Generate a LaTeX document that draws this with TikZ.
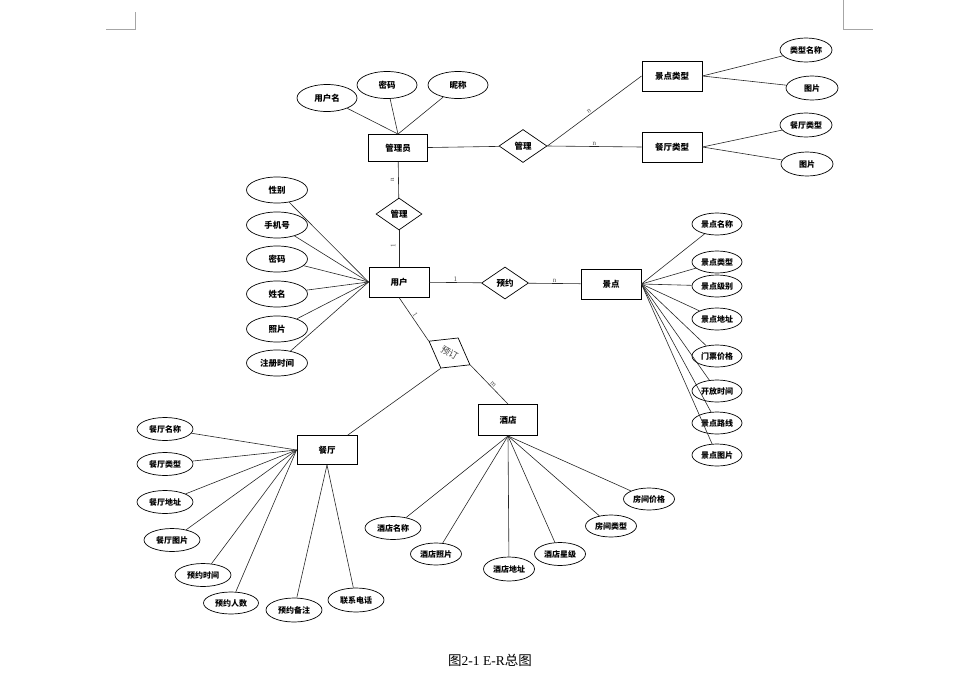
\documentclass[tikz,border=0pt]{standalone}
\usepackage{fontspec}
\setmainfont{Noto Sans CJK SC}
\newfontfamily\lat{Liberation Serif}
\usetikzlibrary{shapes.geometric}
\begin{document}
\begin{tikzpicture}[x=1pt,y=-1pt,
  ent/.style={draw,line width=0.9pt,minimum width=60pt,minimum height=30pt,inner sep=0pt,font=\fontsize{8.5}{8.5}\selectfont\bfseries},
  attr/.style={draw,ellipse,line width=0.7pt,inner sep=0pt,minimum width=60pt,minimum height=27pt,font=\fontsize{8.5}{8.5}\selectfont\bfseries},
  sattr/.style={attr,minimum width=52pt,minimum height=24pt,font=\fontsize{8}{8}\selectfont\bfseries},
  rel/.style={draw,diamond,inner sep=0pt,line width=0.7pt,minimum width=48pt,minimum height=33pt,font=\fontsize{8.5}{8.5}\selectfont\bfseries},
  ln/.style={line width=0.6pt,draw=black!85},
  card/.style={font=\lat\fontsize{7}{7}\selectfont,text=black!70,inner sep=1pt},
  cornermark/.style={draw=black!35,line width=0.8pt}
]
\path[use as bounding box] (0,0) rectangle (959,691);

% corner marks
\draw[cornermark] (106,29) -- (135,29) -- (135,12);
\draw[cornermark] (843,0) -- (843,29) -- (873,29);

% entities
\node[ent,minimum width=59pt,minimum height=27pt] (admin) at (398,148) {管理员};
\node[ent] (stype) at (672,76) {景点类型};
\node[ent] (rtype) at (672,147) {餐厅类型};
\node[ent] (user) at (399,282) {用户};
\node[ent] (spot) at (611,284) {景点};
\node[ent,minimum height=29pt] (cant) at (327,450) {餐厅};
\node[ent,minimum width=59pt,minimum height=31pt] (hotel) at (508,420) {酒店};

% relations
\node[rel] (m1) at (523,146) {管理};
\node[rel,minimum width=46pt,minimum height=32pt] (m2) at (399,214) {管理};
\node[rel,minimum width=47pt,minimum height=32pt] (yy) at (505,283) {预约};
\node[draw,diamond,inner sep=0pt,line width=0.7pt,minimum width=47.5pt,minimum height=35pt,rotate=-30,font=\fontsize{9}{9}\selectfont,text=black!75] (ding) at (449.5,353) {预订};

% admin attributes
\node[attr] (un) at (327,98) {用户名};
\node[attr] (pw1) at (387,85) {密码};
\node[attr] (nick) at (458,85) {昵称};

% type attributes
\node[sattr] (tn) at (806,50) {类型名称};
\node[sattr] (tp1) at (812,88) {图片};
\node[sattr] (rt) at (806,125) {餐厅类型};
\node[sattr] (tp2) at (807,164) {图片};

% user attributes
\node[attr,minimum width=61pt,minimum height=26pt] (sex) at (277,190) {性别};
\node[attr,minimum width=61pt,minimum height=26pt] (phone) at (277,225) {手机号};
\node[attr,minimum width=61pt,minimum height=26pt] (pw2) at (277,259) {密码};
\node[attr,minimum width=61pt,minimum height=26pt] (name) at (277,294) {姓名};
\node[attr,minimum width=61pt,minimum height=26pt] (photo) at (277,329) {照片};
\node[attr,minimum width=61pt,minimum height=26pt] (reg) at (277,363) {注册时间};

% spot attributes
\node[sattr,minimum width=50pt,minimum height=22pt] (s1) at (717,224) {景点名称};
\node[sattr,minimum width=50pt,minimum height=22pt] (s2) at (717,262) {景点类型};
\node[sattr,minimum width=50pt,minimum height=22pt] (s3) at (717,286) {景点级别};
\node[sattr,minimum width=50pt,minimum height=22pt] (s4) at (717,319) {景点地址};
\node[sattr,minimum width=50pt,minimum height=22pt] (s5) at (717,356) {门票价格};
\node[sattr,minimum width=50pt,minimum height=22pt] (s6) at (717,391) {开放时间};
\node[sattr,minimum width=50pt,minimum height=22pt] (s7) at (717,423) {景点路线};
\node[sattr,minimum width=50pt,minimum height=22pt] (s8) at (717,455) {景点图片};

% restaurant attributes
\node[sattr,minimum width=56pt,minimum height=23pt] (c1) at (165,429) {餐厅名称};
\node[sattr,minimum width=56pt,minimum height=23pt] (c2) at (165,464) {餐厅类型};
\node[sattr,minimum width=56pt,minimum height=23pt] (c3) at (165,502) {餐厅地址};
\node[sattr,minimum width=56pt,minimum height=23pt] (c4) at (172,540) {餐厅图片};
\node[sattr,minimum width=56pt,minimum height=23pt] (c5) at (203,575) {预约时间};
\node[sattr,minimum width=55pt,minimum height=22pt] (c6) at (231,603) {预约人数};
\node[sattr,minimum width=56pt,minimum height=24pt] (c7) at (294,610) {预约备注};
\node[sattr,minimum width=56pt,minimum height=24pt] (c8) at (356,600) {联系电话};

% hotel attributes
\node[sattr,minimum width=56pt,minimum height=23pt] (h1) at (393,528) {酒店名称};
\node[sattr,minimum width=51pt,minimum height=22pt] (h2) at (436,554) {酒店照片};
\node[sattr,minimum width=51pt,minimum height=24pt] (h3) at (509,569) {酒店地址};
\node[sattr,minimum width=51pt,minimum height=23pt] (h4) at (560,554) {酒店星级};
\node[sattr,minimum width=51pt,minimum height=22pt] (h5) at (611,526) {房间类型};
\node[sattr,minimum width=51pt,minimum height=22pt] (h6) at (649,499) {房间价格};

% relationship connectors
\draw[ln] (admin) -- (m1);
\draw[ln] (m1.east) -- node[card,pos=0.46,above,sloped]{n} (stype.west);
\draw[ln] (m1.east) -- node[card,pos=0.5,above]{n} (rtype.west);
\draw[ln] (admin) -- node[card,pos=0.5,xshift=-6pt,rotate=90]{n} (m2);
\draw[ln] (m2) -- node[card,pos=0.43,xshift=-6pt,rotate=90]{1} (user);
\draw[ln] (user) -- node[card,pos=0.5,above]{1} (yy);
\draw[ln] (yy) -- node[card,pos=0.5,above]{n} (spot);
\draw[ln] (user.south) -- node[card,pos=0.45,above,sloped]{1} (ding.west);
\draw[ln] (ding.east) -- node[card,pos=0.55,above,sloped]{m} (hotel.north);
\draw[ln] (ding.south) -- (cant);

% attribute connectors
\foreach \a in {un,pw1,nick} \draw[ln] (\a) -- (admin.north);
\foreach \a in {tn,tp1} \draw[ln] (stype.east) -- (\a);
\foreach \a in {rt,tp2} \draw[ln] (rtype.east) -- (\a);
\foreach \a in {sex,phone,pw2,name,photo,reg} \draw[ln] (\a) -- (user.west);
\foreach \a in {s1,s2,s3,s4,s5,s6,s7,s8} \draw[ln] (spot.east) -- (\a);
\foreach \a in {c1,c2,c3,c4,c5,c6} \draw[ln] (\a) -- (cant.west);
\foreach \a in {c7,c8} \draw[ln] (\a) -- (cant.south);
\foreach \a in {h1,h2,h3,h4,h5,h6} \draw[ln] (hotel.south) -- (\a);

% caption
\node[font=\fontsize{13.5}{13.5}\selectfont] (cap) at (490,660) {图{\lat 2-1 E-R}总图};
\end{tikzpicture}
\end{document}
